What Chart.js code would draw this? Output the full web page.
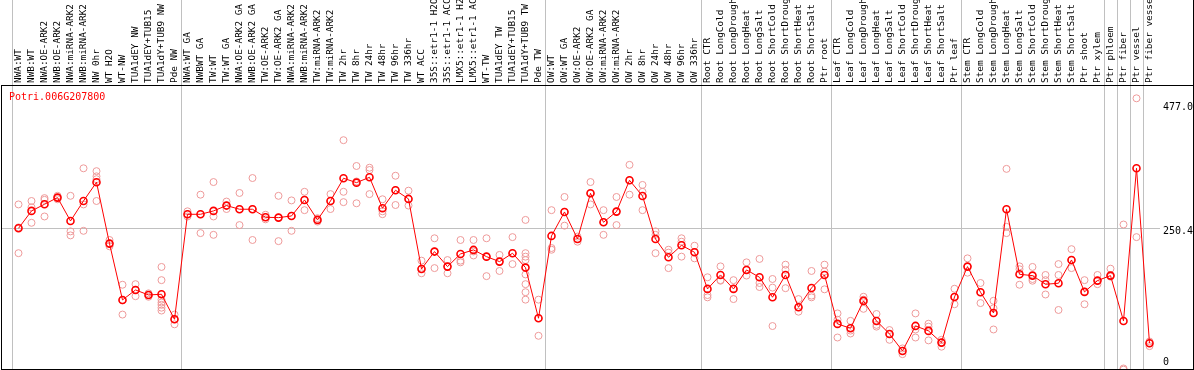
<!DOCTYPE html>
<html>
<head>
<meta charset="utf-8">
<script src="https://cdn.jsdelivr.net/npm/chart.js@4.4.1/dist/chart.umd.min.js"></script>
<style>
body { margin: 0; background: #fff; }
#wrap { position: relative; width: 1194px; height: 370px; overflow: hidden; }
#c { position: absolute; left: 0; top: 0; }
#frame { position: absolute; left: 1px; top: 85px; width: 1193px; height: 285px; border: 1px solid #000; box-sizing: border-box; pointer-events: none; }
#edge { position: absolute; left: 1193px; top: 0; width: 1px; height: 85px; background: #000; }
#gene { position: absolute; left: 9px; top: 91px; font: 10px "DejaVu Sans Mono", monospace; line-height: 12px; color: #f00; }
</style>
</head>
<body>
<div id="wrap">
  <canvas id="c" width="1194" height="370"></canvas>
  <div id="frame"></div>
  <div id="edge"></div>
  <div id="gene">Potri.006G207800</div>
</div>
<script>
var labels = [
  'NWA:WT', 'NWB:WT', 'NWA:OE-ARK2', 'NWB:OE-ARK2', 'NWA:miRNA-ARK2', 'NWB:miRNA-ARK2',
  'NW 0hr', 'WT H2O', 'WT-NW', 'TUA1dEY NW', 'TUA1dEY+TUB15', 'TUA1dY+TUB9 NW', 'Pde NW',
  'NWA:WT GA', 'NWBWT GA', 'TW:WT', 'TW:WT GA', 'NWA:OE-ARK2 GA', 'NWB:OE-ARK2 GA',
  'TW:OE-ARK2', 'TW:OE-ARK2 GA', 'NWA:miRNA-ARK2', 'NWB:miRNA-ARK2', 'TW:miRNA-ARK2', 'TW:miRNA-ARK2',
  'TW 2hr', 'TW 8hr', 'TW 24hr', 'TW 48hr', 'TW 96hr', 'TW 336hr', 'WT ACC',
  '35S::etr1-1 H2O', '35S::etr1-1 ACC', 'LMX5::etr1-1 H2O', 'LMX5::etr1-1 ACC',
  'WT-TW', 'TUA1dEY TW', 'TUA1dEY+TUB15', 'TUA1dY+TUB9 TW', 'Pde TW',
  'OW:WT', 'OW:WT GA', 'OW:OE-ARK2', 'OW:OE-ARK2 GA', 'OW:miRNA-ARK2', 'OW:miRNA-ARK2',
  'OW 2hr', 'OW 8hr', 'OW 24hr', 'OW 48hr', 'OW 96hr', 'OW 336hr',
  'Root CTR', 'Root LongCold', 'Root LongDrought', 'Root LongHeat', 'Root LongSalt',
  'Root ShortCold', 'Root ShortDrought', 'Root ShortHeat', 'Root ShortSalt', 'Ptr root',
  'Leaf CTR', 'Leaf LongCold', 'Leaf LongDrought', 'Leaf LongHeat', 'Leaf LongSalt',
  'Leaf ShortCold', 'Leaf ShortDrought', 'Leaf ShortHeat', 'Leaf ShortSalt', 'Ptr leaf',
  'Stem CTR', 'Stem LongCold', 'Stem LongDrought', 'Stem LongHeat', 'Stem LongSalt',
  'Stem ShortCold', 'Stem ShortDrought', 'Stem ShortHeat', 'Stem ShortSalt', 'Ptr shoot',
  'Ptr xylem', 'Ptr phloem', 'Ptr fiber', 'Ptr vessel', 'Ptr fiber vessel'
];

// mean expression per sample (red line)
var means = [
  250.4, 280.7, 292.3, 303.9, 263.2, 298.1, 330.6, 223.7, 125.5, 142.9, 134.2, 135.4, 91.8,
  274.8, 274.8, 280.7, 290.0, 283.6, 283.6, 269.6, 269.0, 271.9, 299.8, 265.0, 298.1,
  337.6, 330.0, 339.3, 285.3, 316.7, 301.6, 179.5, 209.8, 183.6, 205.7, 212.7,
  201.0, 192.3, 206.9, 181.9, 93.6,
  237.1, 278.9, 231.8, 311.4, 260.9, 279.5, 334.1, 306.8, 231.8, 199.9, 220.8, 208.6,
  144.7, 169.1, 144.7, 177.8, 165.0, 130.2, 169.1, 112.7, 146.4, 169.1,
  83.7, 76.1, 123.8, 88.9, 66.2, 36.6, 80.2, 71.5, 51.1, 130.7,
  183.6, 138.9, 102.8, 283.6, 170.2, 167.9, 152.8, 154.6, 195.2, 139.5,
  159.2, 167.9, 88.9, 355.0, 50.0
];

// individual replicates per sample (pale circles)
var replicates = [
  [292, 252, 207], [298, 287, 260], [303, 300, 271], [307, 304, 301], [307, 245, 238],
  [355, 292, 246], [350, 341, 336, 298], [230, 224, 219], [152, 125, 100], [153, 143, 132],
  [137, 134, 131], [183, 160, 126, 121, 117, 112, 107], [100, 92, 83],
  [280, 275, 271], [309, 275, 242], [331, 271, 239], [297, 290, 284], [312, 284, 256],
  [338, 284, 230], [274, 270, 266], [307, 269, 228], [299, 272, 246], [314, 300, 282],
  [268, 265, 262], [310, 298, 284], [404, 314, 296], [359, 332, 294], [356, 352, 310],
  [301, 280, 275], [342, 317, 291], [316, 302, 290], [194, 180, 172], [233, 210, 181],
  [195, 184, 172], [230, 194, 191], [230, 210, 203], [233, 201, 167], [204, 192, 176],
  [235, 207, 188], [265, 207, 201, 195, 170, 153, 139, 126], [126, 94, 63],
  [282, 216, 213], [305, 279, 255], [236, 232, 227], [331, 311, 292], [282, 261, 239],
  [305, 280, 256], [361, 334, 309], [326, 314, 282], [245, 239, 207], [213, 208, 181],
  [233, 227, 201], [220, 209, 198],
  [165, 134, 130], [184, 160, 159], [160, 145, 127], [191, 178, 168], [197, 155, 148],
  [162, 147, 80], [187, 178, 146], [127, 113, 105], [176, 133, 130], [187, 175, 144],
  [102, 91, 60], [89, 72, 67], [131, 126, 110], [101, 82, 79], [73, 66, 56],
  [41, 37, 31], [102, 74, 60], [84, 79, 55], [56, 51, 44], [145, 131, 118],
  [198, 184, 173], [155, 139, 120], [124, 111, 74], [354, 253, 242], [184, 179, 152],
  [183, 162, 159], [169, 160, 135], [188, 169, 108], [214, 195, 181], [160, 140, 118],
  [169, 159, 153], [180, 168, 166], [257, 6, 4], [477, 235], [53, 50, 45]
];

var yTicks = [0, 250.4, 477.0];
var yTickText = ['0', '250.4', '477.0'];
// category boundaries where the sample groups change
var groupBreaks = [0, 13, 41, 53, 63, 73, 84, 85, 86, 87, 88];

var grey = '#c0c0c0';
var clear = 'rgba(0,0,0,0)';
var mono = '"DejaVu Sans Mono", monospace';
var yNudge = [-10, 3.5, 9];

var repSets = [];
var maxReps = Math.max.apply(null, replicates.map(function (r) { return r.length; }));
for (var k = 0; k < maxReps; k++) {
  repSets.push({
    data: replicates.map(function (r) { return r[k] === undefined ? null : r[k]; }),
    showLine: false,
    pointRadius: 3.5,
    pointBorderWidth: 1,
    pointBorderColor: '#ee9a9a',
    pointBackgroundColor: clear
  });
}

function setYTicks(s) {
  s.ticks = yTicks.map(function (v) { return { value: v }; });
}

// fixed axis sizes, no extra label padding
function fixSize(w, h) {
  return function (s) {
    if (w !== null) s.width = w;
    if (h !== null) s.height = h;
    s.paddingLeft = 0; s.paddingRight = 0; s.paddingTop = 0; s.paddingBottom = 0;
  };
}

var ctx = document.getElementById('c').getContext('2d');
var myChart = new Chart(ctx, {
  type: 'line',
  data: {
    labels: labels,
    datasets: [{
      data: means,
      borderColor: '#ff0000',
      borderWidth: 1,
      pointRadius: 3.5,
      pointBorderWidth: 1.6,
      pointBorderColor: '#ff0000',
      pointBackgroundColor: clear,
      tension: 0
    }].concat(repSets)
  },
  options: {
    responsive: false,
    animation: false,
    devicePixelRatio: 1,
    layout: { autoPadding: false, padding: { left: 1, right: 0, top: 0, bottom: 1 } },
    plugins: { legend: { display: false }, tooltip: { enabled: false } },
    scales: {
      x: {
        position: 'top',
        offset: true,
        border: { display: false },
        grid: {
          offset: true,
          tickLength: 85,
          lineWidth: 1,
          color: function (c) { return groupBreaks.indexOf(c.index) >= 0 ? grey : clear; }
        },
        ticks: {
          autoSkip: false,
          minRotation: 90,
          maxRotation: 90,
          padding: -83,
          labelOffset: 2,
          color: '#000',
          font: { family: mono, size: 9.4, lineHeight: '2px' }
        },
        afterFit: fixSize(null, 85)
      },
      y: {
        position: 'right',
        min: 5.1,
        max: 500.2,
        border: { display: false },
        afterBuildTicks: setYTicks,
        grid: {
          tickLength: 4,
          color: function (c) { return c.tick && c.tick.value === 250.4 ? grey : clear; }
        },
        ticks: {
          autoSkip: false,
          padding: 3,
          color: '#000',
          callback: function (v, i) {
            return yNudge[i] < 0 ? [yTickText[i], ''] : ['', yTickText[i]];
          },
          font: function (c) {
            return { family: mono, size: 10, lineHeight: (Math.abs(yNudge[c.index] || 0) * 2) + 'px' };
          }
        },
        afterFit: fixSize(38, null)
      },
      yl: {
        position: 'left',
        min: 5.1,
        max: 500.2,
        border: { display: false },
        afterBuildTicks: setYTicks,
        grid: {
          drawOnChartArea: false,
          tickLength: 11,
          color: function (c) { return c.tick && c.tick.value === 250.4 ? grey : clear; }
        },
        ticks: { display: false },
        afterFit: fixSize(11, null)
      }
    }
  }
});
</script>
</body>
</html>
